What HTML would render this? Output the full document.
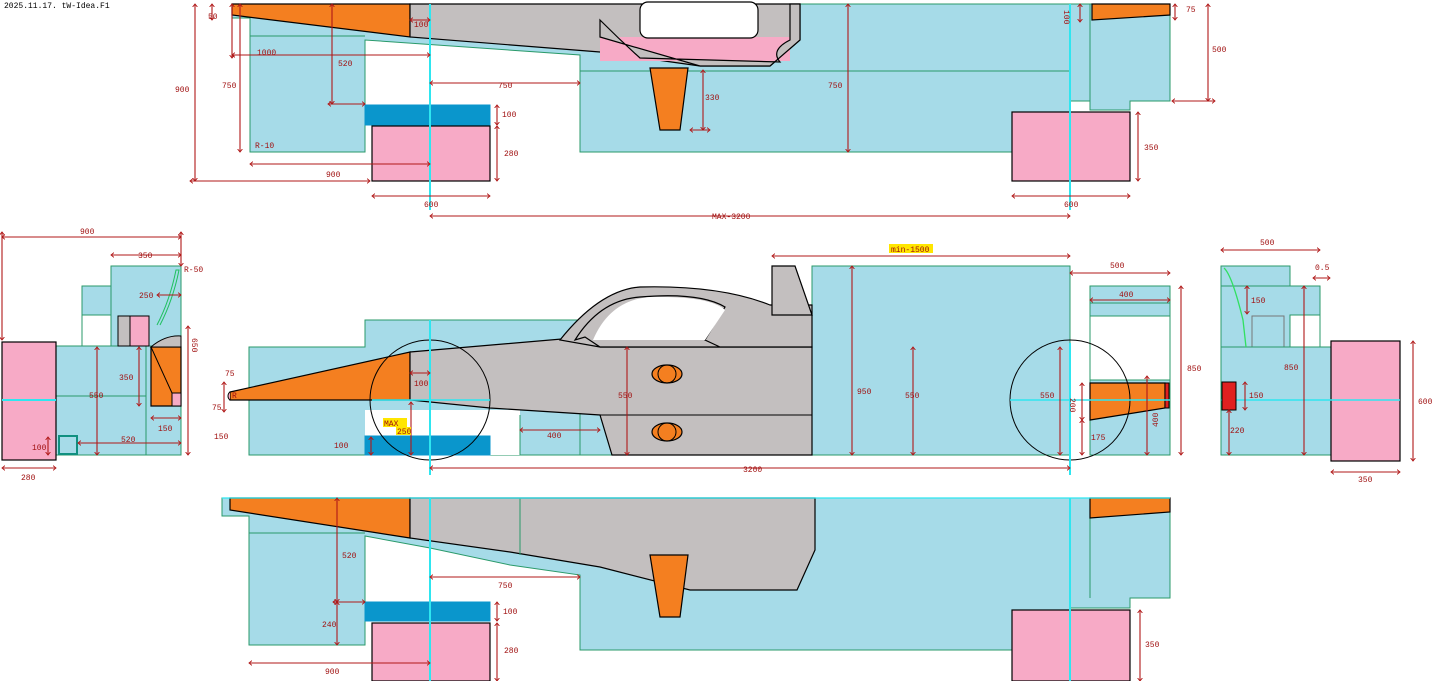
<!DOCTYPE html>
<html><head><meta charset="utf-8"><style>
html,body{margin:0;padding:0;background:#fff;width:1436px;height:681px;overflow:hidden}
svg{display:block}
text{font-family:"Liberation Mono",monospace;font-size:8px;fill:#a01010}
.lb{fill:#a6dbe8;stroke:#2a9a6a;stroke-width:1}
.pk{fill:#f7aac6;stroke:#000;stroke-width:1.2}
.or{fill:#f47f20;stroke:#000;stroke-width:1.2}
.gr{fill:#c3bfbf;stroke:#000;stroke-width:1.2}
.bl{fill:#0a96cc;stroke:#0a96cc}
.d line{stroke:#b01818;stroke-width:1.1;fill:none;marker-start:url(#a);marker-end:url(#a)}
.cy{stroke:#2ee6f0;stroke-width:2}
.wh{fill:#fff;stroke:#000;stroke-width:1.2}
</style></head><body>
<svg width="1436" height="681" viewBox="0 0 1436 681" xmlns="http://www.w3.org/2000/svg">
<defs><marker id="a" viewBox="0 0 10 10" refX="5" refY="5" markerWidth="6" markerHeight="6" orient="auto-start-reverse" markerUnits="userSpaceOnUse"><path d="M0,1 L5,5 L0,9" fill="none" stroke="#b01818" stroke-width="1.5"/></marker></defs>
<text x="4" y="8" style="fill:#000">2025.11.17. tW-Idea.F1</text>

<!-- ===== TOP VIEW ===== -->
<path class="lb" d="M232,4 L1170,4 L1170,101 L1130,101 L1130,110 L1090,110 L1090,101 L1070,101 L1070,152 L580,152 L580,55 L365,40 L365,152 L250,152 L250,18 L232,18 Z"/>
<line class="lb" x1="580" y1="71" x2="1070" y2="71"/>
<line class="lb" x1="250" y1="36" x2="365" y2="36"/>
<line class="lb" x1="1090" y1="4" x2="1090" y2="101"/>
<path class="or" d="M232,4 L410,4 L410,37 L232,15 Z"/>
<path class="gr" d="M410,4 L800,4 L800,40 L770,66 L700,66 L600,52 L410,37 Z"/>
<rect x="600" y="37" width="190" height="24" fill="#f7aac6"/>
<path d="M600,37 L600,20 Q620,40 640,58 L780,62 Q770,50 790,40 L790,4 L800,4 L800,40 L770,66 L700,66 Z" class="gr"/>
<rect x="640" y="2" width="118" height="36" rx="8" class="wh"/>
<path class="or" d="M650,68 L688,68 L680,130 L660,130 Z"/>
<path class="or" d="M1092,4 L1170,4 L1170,15 L1092,20 Z"/>
<rect class="bl" x="365" y="105" width="125" height="20"/>
<rect class="pk" x="372" y="126" width="118" height="55"/>
<rect class="pk" x="1012" y="112" width="118" height="69"/>
<line class="cy" x1="430" y1="4" x2="430" y2="210"/>
<line class="cy" x1="1070" y1="4" x2="1070" y2="210"/>
<g class="d">
<line x1="195" y1="4" x2="195" y2="181"/><line x1="190" y1="181" x2="370" y2="181"/>
<line x1="212" y1="4" x2="212" y2="20"/>
<line x1="232" y1="4" x2="232" y2="58"/><line x1="232" y1="55" x2="430" y2="55"/>
<line x1="240" y1="4" x2="240" y2="152"/>
<line x1="332" y1="4" x2="332" y2="104"/><line x1="328" y1="104" x2="365" y2="104"/>
<line x1="410" y1="20" x2="430" y2="20"/>
<line x1="430" y1="83" x2="580" y2="83"/>
<line x1="250" y1="164" x2="430" y2="164"/>
<line x1="497" y1="105" x2="497" y2="125"/><line x1="497" y1="126" x2="497" y2="181"/>
<line x1="372" y1="196" x2="490" y2="196"/><line x1="1012" y1="196" x2="1130" y2="196"/>
<line x1="430" y1="216" x2="1070" y2="216"/>
<line x1="703" y1="70" x2="703" y2="130"/><line x1="690" y1="130" x2="710" y2="130"/>
<line x1="848" y1="4" x2="848" y2="152"/>
<line x1="1080" y1="4" x2="1080" y2="22"/><line x1="1175" y1="4" x2="1175" y2="20"/>
<line x1="1208" y1="4" x2="1208" y2="101"/><line x1="1172" y1="101" x2="1215" y2="101"/>
<line x1="1138" y1="112" x2="1138" y2="181"/>
</g>
<text x="208" y="19">50</text><text x="257" y="55">1000</text><text x="338" y="66">520</text>
<text x="222" y="88">750</text><text x="175" y="92">900</text><text x="414" y="27">100</text>
<text x="498" y="88">750</text><text x="255" y="148">R-10</text><text x="326" y="177">900</text>
<text x="502" y="117">100</text><text x="504" y="156">280</text><text x="424" y="207">600</text>
<text x="1064" y="207">600</text><text x="712" y="219">MAX-3200</text>
<text x="705" y="100">330</text><text x="828" y="88">750</text><text x="1186" y="12">75</text>
<text x="1212" y="52">500</text><text x="1144" y="150">350</text><text x="1066" y="16" transform="rotate(90 1068 12)">100</text>

<!-- ===== SIDE VIEW ===== -->
<path class="lb" d="M249,347 L365,347 L365,320 L580,320 L580,347 L812,347 L812,266 L1070,266 L1070,455 L249,455 Z"/>
<path class="lb" d="M1090,286 L1170,286 L1170,455 L1090,455 Z"/>
<rect x="1090" y="316" width="80" height="64" fill="#fff" stroke="#2a9a6a"/>
<line class="lb" x1="1090" y1="303" x2="1170" y2="303"/>
<rect x="365" y="410" width="155" height="45" fill="#fff" stroke="none"/>
<line x1="580" y1="347" x2="580" y2="455" stroke="#2a9a6a"/>
<line x1="520" y1="415" x2="520" y2="455" stroke="#2a9a6a"/>
<path class="or" d="M230,392 L410,352 L410,400 L230,400 Z"/>
<path d="M230,392 A5,5 0 0 0 230,400" fill="#f7aac6" stroke="#000"/>
<path class="gr" d="M410,352 L585,337 L600,347 L812,347 L812,455 L612,455 L600,415 L490,408 L410,400 Z"/>
<path class="gr" d="M560,340 Q600,290 640,287 Q720,285 770,305 L812,305 L812,347 L600,347 L585,337 L575,340 Q600,300 640,297 Q700,292 725,307 L705,340 L720,347 L600,347 Z"/>
<path class="wh" d="M593,340 Q610,300 650,297 Q710,296 725,310 L705,340 Z" style="stroke:none"/>
<path class="gr" d="M772,266 L795,266 L812,315 L772,315 Z"/>
<line x1="600" y1="415" x2="812" y2="415" stroke="#000"/>
<ellipse class="or" cx="667" cy="374" rx="15" ry="9"/><circle cx="667" cy="374" r="9" fill="none" stroke="#000"/>
<ellipse class="or" cx="667" cy="432" rx="15" ry="9"/><circle cx="667" cy="432" r="9" fill="none" stroke="#000"/>
<rect class="bl" x="365" y="436" width="125" height="19"/>
<path class="or" d="M1090,383 L1165,383 L1165,408 L1090,420 Z"/>
<rect x="1165" y="383" width="4" height="25" fill="#e02020" stroke="#000"/>
<circle cx="430" cy="400" r="60" fill="none" stroke="#000"/>
<circle cx="1070" cy="400" r="60" fill="none" stroke="#000"/>
<line class="cy" x1="430" y1="320" x2="430" y2="475"/>
<line class="cy" x1="1070" y1="343" x2="1070" y2="475"/>
<line x1="372" y1="400" x2="490" y2="400" stroke="#2ee6f0" stroke-width="1.5"/>
<line x1="1010" y1="400" x2="1170" y2="400" stroke="#2ee6f0" stroke-width="1.5"/>
<g class="d">
<line x1="224" y1="382" x2="224" y2="412"/>
<line x1="410" y1="373" x2="430" y2="373"/>
<line x1="371" y1="437" x2="371" y2="455"/>
<line x1="411" y1="402" x2="411" y2="455"/>
<line x1="520" y1="430" x2="600" y2="430"/>
<line x1="627" y1="347" x2="627" y2="455"/>
<line x1="430" y1="468" x2="1070" y2="468"/>
<line x1="772" y1="256" x2="1070" y2="256"/>
<line x1="852" y1="266" x2="852" y2="455"/>
<line x1="913" y1="347" x2="913" y2="455"/>
<line x1="1060" y1="347" x2="1060" y2="455"/>
<line x1="1082" y1="383" x2="1082" y2="420"/><line x1="1082" y1="420" x2="1082" y2="455"/>
<line x1="1070" y1="273" x2="1170" y2="273"/>
<line x1="1090" y1="300" x2="1170" y2="300"/>
<line x1="1147" y1="376" x2="1147" y2="455"/>
<line x1="1181" y1="286" x2="1181" y2="455"/>
</g>
<text x="225" y="376">75</text><text x="232" y="398">R</text><text x="212" y="410">75</text>
<text x="214" y="439">150</text><text x="414" y="386">100</text><text x="334" y="448">100</text>
<rect x="383" y="418" width="24" height="9" fill="#ffe600"/><text x="384" y="426">MAX</text>
<rect x="396" y="427" width="15" height="8" fill="#ffe600"/><text x="397" y="434">250</text>
<text x="547" y="438">400</text><text x="618" y="398">550</text>
<text x="743" y="472">3200</text>
<rect x="889" y="244" width="44" height="9" fill="#ffe600"/><text x="891" y="252">min-1500</text>
<text x="857" y="394">950</text><text x="905" y="398">550</text><text x="1040" y="398">550</text>
<text x="1073" y="405" transform="rotate(90 1075 400)">200</text><text x="1091" y="440">175</text>
<text x="1151" y="430" transform="rotate(-90 1153 425)">400</text>
<text x="1110" y="268">500</text><text x="1119" y="297">400</text><text x="1187" y="371">850</text>

<!-- ===== FRONT VIEW (left) ===== -->
<rect class="lb" x="111" y="266" width="70" height="181"/>
<rect class="lb" x="82" y="286" width="29" height="60"/>
<rect x="82" y="315" width="29" height="31" fill="#fff" stroke="#2a9a6a"/>
<rect class="lb" x="30" y="346" width="151" height="109"/>
<line x1="146" y1="346" x2="146" y2="455" stroke="#2a9a6a"/>
<line x1="30" y1="396" x2="146" y2="396" stroke="#2a9a6a"/>
<rect x="118" y="316" width="12" height="30" fill="#c3bfbf" stroke="#000"/>
<rect x="130" y="316" width="19" height="30" fill="#f7aac6" stroke="#000"/>
<path class="or" d="M151,347 L181,347 L181,406 L151,406 Z"/>
<path d="M151,347 Q165,335 181,336 L181,347 Z" fill="#c3bfbf" stroke="#000"/>
<line x1="151" y1="347" x2="172" y2="393" stroke="#000"/>
<rect x="172" y="393" width="9" height="13" fill="#f7aac6" stroke="#000"/>
<path d="M157,325 Q170,300 176,270 L179,270 Q173,300 160,325" fill="none" stroke="#20c060"/>
<rect x="59" y="436" width="18" height="18" fill="none" stroke="#109080" stroke-width="2"/>
<rect class="pk" x="2" y="342" width="54" height="118"/>
<line x1="2" y1="400" x2="56" y2="400" stroke="#2ee6f0" stroke-width="2"/>
<g class="d">
<line x1="2" y1="237" x2="181" y2="237"/><line x1="2" y1="232" x2="2" y2="340"/><line x1="181" y1="232" x2="181" y2="266"/>
<line x1="111" y1="255" x2="181" y2="255"/>
<line x1="157" y1="295" x2="181" y2="295"/>
<line x1="97" y1="347" x2="97" y2="455"/>
<line x1="139" y1="347" x2="139" y2="406"/>
<line x1="151" y1="418" x2="181" y2="418"/>
<line x1="78" y1="443" x2="181" y2="443"/>
<line x1="48" y1="437" x2="48" y2="455"/>
<line x1="188" y1="326" x2="188" y2="455"/>
<line x1="2" y1="468" x2="56" y2="468"/>
</g>
<text x="80" y="234">900</text><text x="138" y="258">350</text><text x="184" y="272">R-50</text>
<text x="139" y="298">250</text><text x="119" y="380">350</text><text x="89" y="398">550</text>
<text x="158" y="431">150</text><text x="121" y="442">520</text><text x="32" y="450">100</text>
<text x="21" y="480">280</text><text x="190" y="348" transform="rotate(90 196 344)">650</text>

<!-- ===== REAR VIEW (right) ===== -->
<rect class="lb" x="1221" y="266" width="69" height="81"/>
<rect class="lb" x="1221" y="286" width="99" height="61"/>
<rect x="1290" y="315" width="30" height="32" fill="#fff" stroke="#2a9a6a"/>
<rect x="1252" y="316" width="32" height="31" fill="none" stroke="#777"/>
<rect class="lb" x="1221" y="347" width="139" height="108"/>
<path d="M1224,268 Q1232,275 1243,320 L1246,347" fill="none" stroke="#30e060" stroke-width="1.3"/>
<rect class="pk" x="1331" y="341" width="69" height="120"/>
<line x1="1221" y1="400" x2="1400" y2="400" stroke="#2ee6f0" stroke-width="1.5"/>
<rect x="1222" y="382" width="14" height="28" fill="#e02020" stroke="#000"/>
<g class="d">
<line x1="1221" y1="250" x2="1320" y2="250"/><line x1="1313" y1="278" x2="1330" y2="278"/>
<line x1="1247" y1="286" x2="1247" y2="314"/>
<line x1="1304" y1="286" x2="1304" y2="455"/>
<line x1="1245" y1="382" x2="1245" y2="410"/>
<line x1="1229" y1="410" x2="1229" y2="455"/>
<line x1="1413" y1="341" x2="1413" y2="461"/>
<line x1="1331" y1="472" x2="1400" y2="472"/>
</g>
<text x="1260" y="245">500</text><text x="1315" y="270">0.5</text><text x="1251" y="303">150</text>
<text x="1284" y="370">850</text><text x="1249" y="398">150</text><text x="1230" y="433">220</text>
<text x="1418" y="404">600</text><text x="1358" y="482">350</text>

<!-- ===== BOTTOM VIEW ===== -->
<path class="lb" d="M222,498 L1170,498 L1170,598 L1130,598 L1130,608 L1070,608 L1070,650 L580,650 L580,575 L510,565 L430,548 L365,536 L365,645 L249,645 L249,516 L222,516 Z"/>
<line x1="249" y1="533" x2="365" y2="533" stroke="#2a9a6a"/>
<line x1="1090" y1="498" x2="1090" y2="598" stroke="#2a9a6a"/>
<path class="or" d="M230,498 L410,498 L410,538 L230,510 Z"/>
<path class="gr" d="M410,498 L815,498 L815,550 L797,590 L690,590 L600,567 L510,552 L410,538 Z"/>
<line x1="520" y1="498" x2="520" y2="555" stroke="#2a9a6a"/>
<path class="or" d="M650,555 L688,555 L680,617 L660,617 Z"/>
<path class="or" d="M1090,498 L1170,498 L1170,512 L1090,518 Z"/>
<rect class="bl" x="365" y="602" width="125" height="19"/>
<rect class="pk" x="372" y="623" width="118" height="58"/>
<rect class="pk" x="1012" y="610" width="118" height="71"/>
<line class="cy" x1="430" y1="498" x2="430" y2="681"/>
<line class="cy" x1="1070" y1="498" x2="1070" y2="681"/>
<line x1="222" y1="498" x2="1170" y2="498" stroke="#2ee6f0" stroke-width="1.2"/>
<g class="d">
<line x1="337" y1="498" x2="337" y2="602"/><line x1="337" y1="602" x2="337" y2="645"/>
<line x1="333" y1="602" x2="365" y2="602"/>
<line x1="430" y1="577" x2="580" y2="577"/>
<line x1="497" y1="602" x2="497" y2="621"/><line x1="497" y1="623" x2="497" y2="681"/>
<line x1="249" y1="663" x2="430" y2="663"/>
<line x1="1140" y1="610" x2="1140" y2="681"/>
</g>
<text x="342" y="558">520</text><text x="498" y="588">750</text><text x="503" y="614">100</text>
<text x="322" y="627">240</text><text x="504" y="653">280</text><text x="325" y="674">900</text><text x="1145" y="647">350</text>
</svg>
</body></html>
